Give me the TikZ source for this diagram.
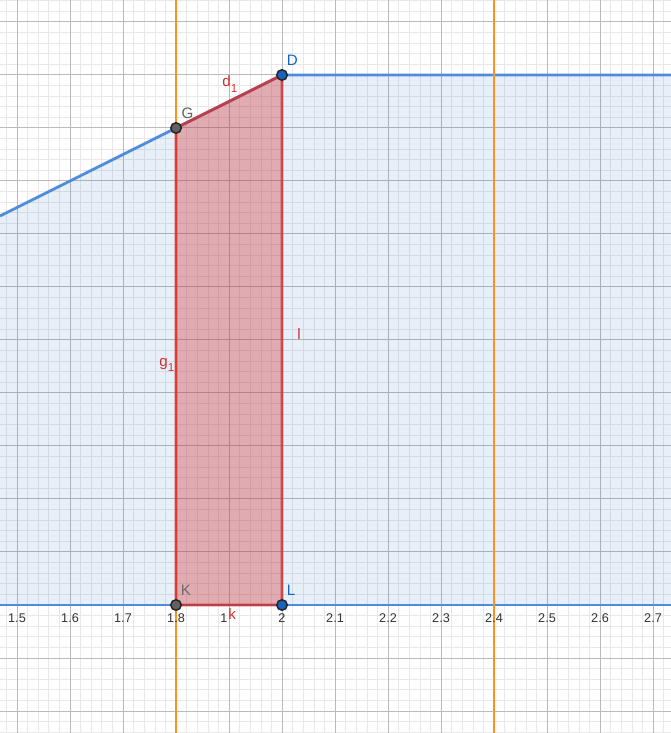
\documentclass[tikz,border=0pt]{standalone}
\usepackage{fontspec}
\setmainfont{Liberation Sans}
\usetikzlibrary{positioning}
\definecolor{ggblue}{RGB}{21,101,192}
\definecolor{ggline}{RGB}{80,140,220}
\definecolor{ggred}{RGB}{211,47,47}
\definecolor{ggorange}{RGB}{255,145,30}
\definecolor{gggray}{RGB}{97,97,97}
\newcommand{\ggsub}[1]{\raisebox{-1.1mm}{\fontsize{6.6}{7}\selectfont #1}}
\begin{document}
\begin{tikzpicture}[
  x=10.6cm, y=10.6cm,
  minorgrid/.style={draw=black!9, line width=0.2mm},
  majorgrid/.style={draw=black!27, line width=0.2mm},
  bound/.style={ggline, line width=0.55mm},
  vline/.style={ggorange, line width=0.45mm},
  redside/.style={ggred, draw opacity=0.8, line width=0.55mm, line join=round},
  pt/.style={circle, draw=black!85, line width=0.3mm, minimum size=2.1mm, inner sep=0pt},
  tick/.style={anchor=base, font=\fontsize{7.2}{8}\selectfont, text=black!80},
  lab/.style={anchor=base west, inner sep=0pt, font=\fontsize{8.6}{10}\selectfont}
]
\useasboundingbox (1.46792,-0.24151) rectangle (2.73396,1.14151);
\fill[white] (1.46792,-0.24151) rectangle (2.73396,1.14151);
\draw[minorgrid] (1.46792,-0.24151) grid[step=0.02] (2.73396,1.14151);
\draw[majorgrid] (1.46792,-0.24151) grid[step=0.1] (2.73396,1.14151);

\coordinate (W) at (1.46792,0.73396);
\coordinate (E) at (2.73396,1);
\coordinate (O) at (1.46792,0);
\coordinate (P) at (2.73396,0);
\coordinate (G) at (1.8,0.9);
\coordinate (D) at (2,1);
\coordinate (K) at (1.8,0);
\coordinate (L) at (2,0);
\coordinate (A1) at (1.8,-0.24151);
\coordinate (A2) at (1.8,1.14151);
\coordinate (B1) at (2.4,-0.24151);
\coordinate (B2) at (2.4,1.14151);

\fill[ggblue, fill opacity=0.1] (O) -- (W) -- (G) -- (D) -- (E) -- (P) -- cycle;
\draw[bound] (W) -- (G) -- (D) -- (E);
\draw[bound] (O) -- (P);
\draw[vline] (A1) -- (A2);
\draw[vline] (B1) -- (B2);

\fill[ggred, fill opacity=0.35] (G) -- (D) -- (L) -- (K) -- cycle;
\draw[redside] (G) -- (D) -- (L) -- (K) -- cycle;

\foreach \t [count=\i] in {1.5,1.6,1.7,1.8,2,2.1,2.2,2.3,2.4,2.5,2.6,2.7}
  \node[tick] (t\i) at (\t,-0.0321) {\t};
\node[tick, anchor=base west, inner sep=0pt] (t19) at (1.8830,-0.0321) {1};

\node[pt, fill=gggray] (Gdot) at (G) {};
\node[pt, fill=ggblue] (Ddot) at (D) {};
\node[pt, fill=gggray] (Kdot) at (K) {};
\node[pt, fill=ggblue] (Ldot) at (L) {};

\node[lab, text=ggblue] (Dlab) at (2.0085,1.0175) {D};
\node[lab, text=gggray] (Glab) at (1.8100,0.9185) {G};
\node[lab, text=gray!85!black] (Klab) at (1.8085,0.0175) {K};
\node[lab, text=ggblue] (Llab) at (2.0085,0.0175) {L};
\node[lab, text=ggred] (d1lab) at (1.8868,0.9774) {d\ggsub{1}};
\node[lab, text=ggred] (g1lab) at (1.7679,0.4509) {g\ggsub{1}};
\node[lab, text=ggred] (llab) at (2.0283,0.5) {l};
\node[lab, text=ggred] (klab) at (1.8981,-0.0283) {k};
\end{tikzpicture}
\end{document}
